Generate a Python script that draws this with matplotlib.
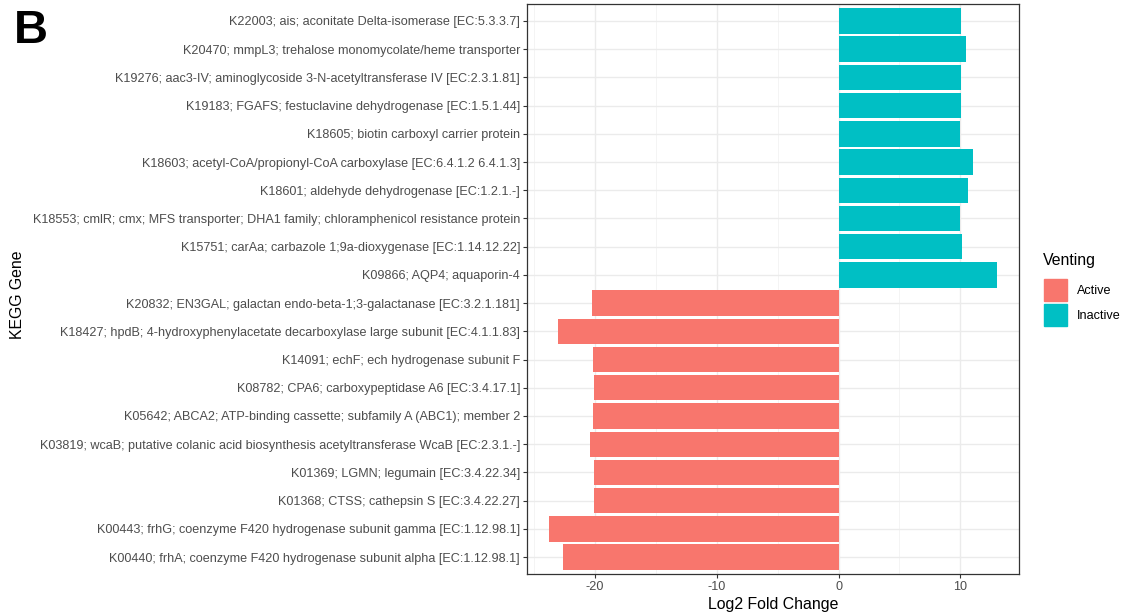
import matplotlib.pyplot as plt
from matplotlib.patches import Patch
import numpy as np

plt.rcParams['font.family'] = ['Liberation Sans', 'DejaVu Sans']
plt.rcParams['axes.unicode_minus'] = False

# genes listed top to bottom as shown
genes = [
    "K22003; ais; aconitate Delta-isomerase [EC:5.3.3.7]",
    "K20470; mmpL3; trehalose monomycolate/heme transporter",
    "K19276; aac3-IV; aminoglycoside 3-N-acetyltransferase IV [EC:2.3.1.81]",
    "K19183; FGAFS; festuclavine dehydrogenase [EC:1.5.1.44]",
    "K18605; biotin carboxyl carrier protein",
    "K18603; acetyl-CoA/propionyl-CoA carboxylase [EC:6.4.1.2 6.4.1.3]",
    "K18601; aldehyde dehydrogenase [EC:1.2.1.-]",
    "K18553; cmlR; cmx; MFS transporter; DHA1 family; chloramphenicol resistance protein",
    "K15751; carAa; carbazole 1;9a-dioxygenase [EC:1.14.12.22]",
    "K09866; AQP4; aquaporin-4",
    "K20832; EN3GAL; galactan endo-beta-1;3-galactanase [EC:3.2.1.181]",
    "K18427; hpdB; 4-hydroxyphenylacetate decarboxylase large subunit [EC:4.1.1.83]",
    "K14091; echF; ech hydrogenase subunit F",
    "K08782; CPA6; carboxypeptidase A6 [EC:3.4.17.1]",
    "K05642; ABCA2; ATP-binding cassette; subfamily A (ABC1); member 2",
    "K03819; wcaB; putative colanic acid biosynthesis acetyltransferase WcaB [EC:2.3.1.-]",
    "K01369; LGMN; legumain [EC:3.4.22.34]",
    "K01368; CTSS; cathepsin S [EC:3.4.22.27]",
    "K00443; frhG; coenzyme F420 hydrogenase subunit gamma [EC:1.12.98.1]",
    "K00440; frhA; coenzyme F420 hydrogenase subunit alpha [EC:1.12.98.1]",
]
log2fc = [10.06, 10.5, 10.06, 10.08, 9.94, 11.07, 10.6, 9.94, 10.1, 12.98,
          -20.25, -23.06, -20.16, -20.1, -20.14, -20.4, -20.08, -20.06, -23.75, -22.6]
venting = ["Inactive"] * 10 + ["Active"] * 10

colors = {"Active": "#F8766D", "Inactive": "#00BFC4"}

fig = plt.figure(figsize=(11.21, 6.14), dpi=100)
ax = fig.add_axes([527 / 1121, 40 / 614, 492 / 1121, 570 / 614])

n = len(genes)
ypos = np.arange(n)[::-1]
ax.barh(ypos, log2fc, height=0.9, color=[colors[v] for v in venting], zorder=2)

lo, hi = min(log2fc), max(log2fc)
pad = (hi - lo) * 0.05
ax.set_xlim(lo - pad, hi + pad)
ax.set_ylim(-0.6, n - 0.4)

ax.set_xticks([-20, -10, 0, 10])
ax.set_xticks([-25, -15, -5, 5], minor=True)
ax.set_yticks(ypos)
ax.set_yticklabels(genes)
ax.grid(which='major', color='#EBEBEB', lw=1.0, zorder=0)
ax.grid(which='minor', axis='x', color='#F3F3F3', lw=0.6, zorder=0)
ax.set_axisbelow(True)
ax.tick_params(which='major', length=3, width=0.8, color='#333333',
               labelcolor='#4D4D4D', labelsize=9.1, pad=2)
ax.tick_params(which='minor', length=0)
for s in ax.spines.values():
    s.set_color('#333333')
    s.set_linewidth(0.9)

ax.set_xlabel("Log2 Fold Change", fontsize=11.4, labelpad=3)
fig.text(18 / 1121, 1 - 295 / 614, "KEGG Gene", rotation=90, fontsize=11.4,
         ha='center', va='center')

fig.text(14 / 1121, 1 - 31 / 614, "B", fontsize=34, fontweight='bold',
         ha='left', va='center')

# legend: title as plain text, keys below it
fig.text(1043 / 1121, 1 - 261 / 614, "Venting", fontsize=11.4,
         ha='left', va='center')
handles = [Patch(color=colors[k]) for k in ["Active", "Inactive"]]
leg = fig.legend(handles, ["Active", "Inactive"],
                 loc='upper left', bbox_to_anchor=(1033 / 1121, 1 - 268 / 614),
                 frameon=False, fontsize=9.1,
                 handlelength=1.8, handleheight=2.3, labelspacing=0.2,
                 handletextpad=0.75)

fig.savefig("out.png", dpi=100)
